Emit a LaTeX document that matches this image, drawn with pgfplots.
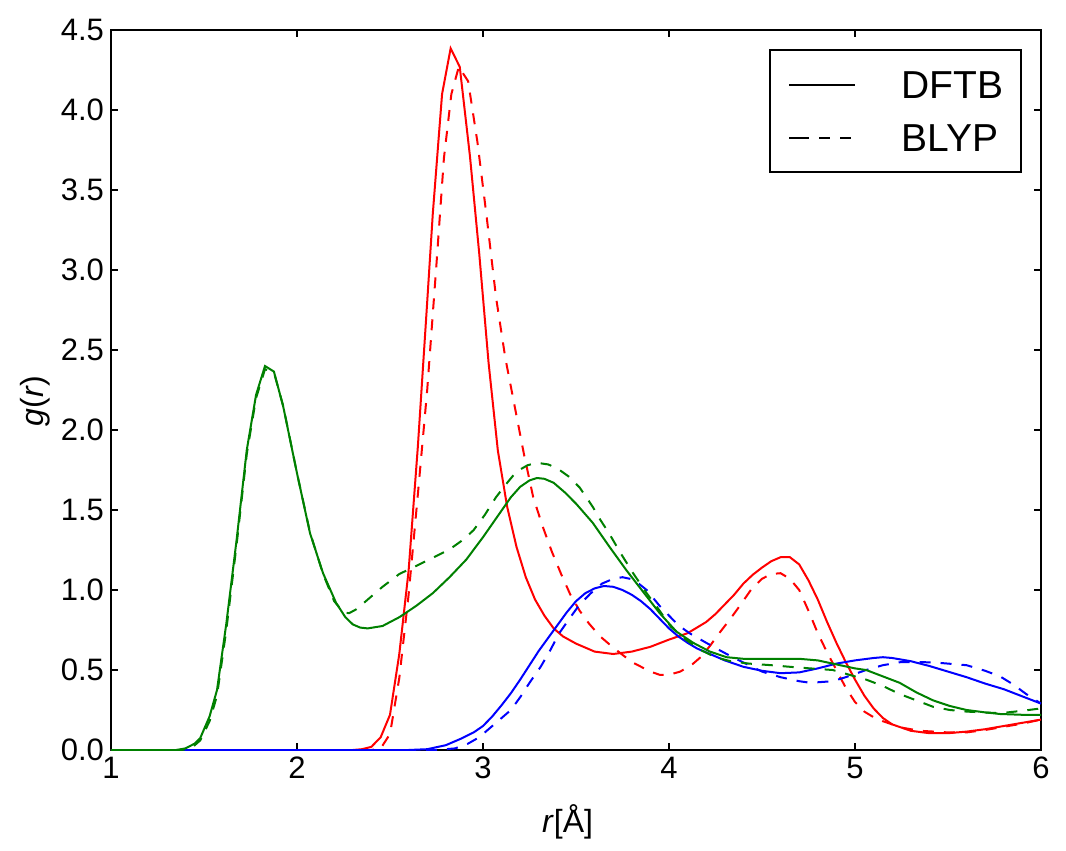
\documentclass[border=0pt]{standalone}
\usepackage{fontspec}
\setmainfont{Liberation Sans}
\usepackage{pgfplots}
\pgfplotsset{compat=1.18}
\usepackage{pgfplotstable}

\definecolor{mplgreen}{rgb}{0,0.5,0}

% Red pair: DFTB and BLYP
\pgfplotstableread{
r g
1.00 0
2.30 0
2.35 0.005
2.40 0.02
2.45 0.08
2.50 0.22
2.55 0.60
2.60 1.12
2.65 1.90
2.70 2.80
2.73 3.35
2.78 4.10
2.826 4.385
2.875 4.27
2.93 3.71
2.98 3.10
3.03 2.42
3.08 1.87
3.13 1.52
3.18 1.27
3.23 1.08
3.28 0.94
3.33 0.84
3.38 0.76
3.43 0.71
3.50 0.665
3.60 0.615
3.70 0.60
3.80 0.615
3.90 0.645
4.00 0.69
4.10 0.73
4.20 0.80
4.25 0.85
4.30 0.91
4.35 0.97
4.40 1.04
4.45 1.095
4.50 1.14
4.55 1.18
4.60 1.205
4.65 1.205
4.70 1.16
4.75 1.06
4.80 0.94
4.85 0.80
4.90 0.67
4.95 0.55
5.00 0.44
5.05 0.34
5.10 0.26
5.15 0.20
5.20 0.16
5.30 0.12
5.40 0.105
5.50 0.105
5.60 0.115
5.70 0.13
5.80 0.15
5.90 0.17
6.00 0.19
}\redDFTB

\pgfplotstableread{
r g
1.00 0
2.40 0
2.45 0.01
2.50 0.10
2.55 0.45
2.60 0.97
2.65 1.60
2.70 2.25
2.75 3.04
2.79 3.70
2.83 4.10
2.87 4.27
2.92 4.18
2.97 3.80
3.02 3.33
3.07 2.83
3.12 2.45
3.17 2.15
3.22 1.85
3.27 1.58
3.32 1.40
3.37 1.24
3.42 1.10
3.47 0.97
3.52 0.87
3.57 0.79
3.63 0.71
3.70 0.64
3.80 0.55
3.90 0.49
3.95 0.47
4.00 0.47
4.06 0.49
4.12 0.53
4.17 0.58
4.22 0.65
4.27 0.73
4.33 0.82
4.38 0.90
4.44 1.00
4.50 1.07
4.55 1.10
4.60 1.105
4.65 1.07
4.70 1.00
4.75 0.87
4.80 0.73
4.85 0.61
4.90 0.50
4.95 0.39
5.00 0.30
5.05 0.24
5.10 0.205
5.15 0.18
5.25 0.14
5.35 0.12
5.50 0.11
5.60 0.11
5.70 0.125
5.80 0.145
5.90 0.165
6.00 0.19
}\redBLYP

% Blue pair
\pgfplotstableread{
r g
1.00 0
2.60 0
2.70 0.005
2.80 0.03
2.88 0.07
2.95 0.11
3.00 0.15
3.05 0.21
3.10 0.28
3.15 0.355
3.20 0.44
3.25 0.53
3.30 0.62
3.35 0.70
3.40 0.78
3.45 0.86
3.50 0.93
3.55 0.98
3.60 1.01
3.65 1.025
3.70 1.02
3.75 1.00
3.80 0.97
3.85 0.93
3.90 0.88
3.95 0.82
4.00 0.76
4.05 0.71
4.10 0.67
4.15 0.635
4.20 0.61
4.30 0.56
4.40 0.52
4.50 0.495
4.60 0.48
4.70 0.485
4.80 0.51
4.90 0.54
5.00 0.56
5.10 0.575
5.15 0.58
5.20 0.575
5.30 0.555
5.40 0.525
5.50 0.49
5.60 0.455
5.70 0.415
5.80 0.38
5.90 0.335
6.00 0.29
}\blueDFTB

\pgfplotstableread{
r g
1.00 0
2.75 0
2.85 0.01
2.92 0.04
2.98 0.08
3.05 0.15
3.10 0.20
3.15 0.25
3.20 0.33
3.25 0.42
3.31 0.52
3.36 0.62
3.41 0.73
3.47 0.83
3.52 0.91
3.58 0.98
3.64 1.04
3.70 1.07
3.75 1.08
3.81 1.065
3.88 1.00
3.95 0.90
4.00 0.84
4.05 0.78
4.11 0.73
4.20 0.67
4.27 0.625
4.35 0.575
4.43 0.53
4.50 0.49
4.60 0.455
4.70 0.43
4.76 0.42
4.88 0.43
4.95 0.455
5.06 0.50
5.15 0.53
5.25 0.55
5.35 0.55
5.45 0.545
5.55 0.535
5.60 0.53
5.70 0.495
5.78 0.46
5.85 0.41
5.92 0.35
6.00 0.29
}\blueBLYP

% Green pair
\pgfplotstableread{
r g
1.00 0
1.35 0
1.40 0.01
1.45 0.04
1.48 0.075
1.53 0.21
1.57 0.375
1.62 0.79
1.675 1.31
1.73 1.875
1.78 2.22
1.828 2.40
1.876 2.365
1.926 2.146
2.00 1.73
2.07 1.355
2.14 1.105
2.21 0.92
2.26 0.83
2.30 0.785
2.34 0.765
2.38 0.76
2.46 0.775
2.55 0.83
2.64 0.90
2.73 0.98
2.82 1.08
2.91 1.19
3.00 1.33
3.09 1.48
3.15 1.58
3.20 1.645
3.25 1.685
3.29 1.70
3.33 1.695
3.38 1.67
3.44 1.61
3.50 1.54
3.59 1.42
3.68 1.27
3.77 1.125
3.86 0.99
3.95 0.855
4.04 0.74
4.13 0.67
4.22 0.615
4.31 0.58
4.40 0.57
4.49 0.57
4.60 0.57
4.70 0.57
4.80 0.56
4.88 0.54
5.00 0.51
5.06 0.50
5.15 0.46
5.24 0.42
5.33 0.36
5.42 0.31
5.51 0.275
5.60 0.25
5.70 0.235
5.78 0.225
5.90 0.22
6.00 0.22
}\greenDFTB

\pgfplotstableread{
r g
1.00 0
1.38 0
1.43 0.01
1.48 0.06
1.53 0.18
1.57 0.34
1.62 0.75
1.675 1.28
1.73 1.85
1.78 2.20
1.828 2.38
1.876 2.36
1.926 2.15
2.00 1.73
2.07 1.36
2.14 1.10
2.20 0.93
2.25 0.86
2.28 0.855
2.32 0.88
2.40 0.96
2.46 1.02
2.55 1.10
2.64 1.15
2.71 1.19
2.78 1.23
2.84 1.27
2.90 1.32
2.95 1.375
3.01 1.47
3.07 1.58
3.13 1.67
3.18 1.74
3.24 1.78
3.29 1.795
3.35 1.785
3.40 1.76
3.46 1.71
3.52 1.64
3.59 1.52
3.63 1.44
3.68 1.35
3.74 1.23
3.81 1.10
3.88 0.98
3.95 0.87
4.01 0.77
4.09 0.69
4.17 0.625
4.25 0.58
4.33 0.555
4.43 0.54
4.55 0.53
4.65 0.52
4.76 0.51
4.88 0.50
4.97 0.47
5.06 0.44
5.15 0.40
5.24 0.35
5.33 0.31
5.42 0.27
5.51 0.25
5.60 0.24
5.69 0.235
5.78 0.23
5.90 0.245
6.00 0.26
}\greenBLYP

\tikzset{
  dftb/.style={line width=1pt, solid},
  blyp/.style={line width=1pt, dash pattern=on 5.5pt off 5pt},
}

\begin{document}
\begin{tikzpicture}
\useasboundingbox (-55.5pt,-50.5pt) rectangle (477.5pt,375pt);
\begin{axis}[
  at={(0,0)}, anchor=south west,
  scale only axis, width=465pt, height=360pt,
  xmin=1, xmax=6, ymin=0, ymax=4.5,
  xtick={1,2,3,4,5,6},
  ytick={0,0.5,1,1.5,2,2.5,3,3.5,4,4.5},
  yticklabel style={/pgf/number format/.cd, fixed, fixed zerofill, precision=1},
  /pgf/number format/assume math mode=true,
  tick label style={font=\fontsize{15.5}{18}\selectfont},
  label style={font=\fontsize{16}{19}\selectfont},
  tick align=inside,
  major tick length=3.5pt,
  tick style={black, line width=0.6pt},
  axis line style={line width=1pt},
  xlabel={\textit{r}[Å]},
  ylabel={\textit{g}(\textit{r})},
  xlabel style={at={(axis description cs:0.491,-0.1)}, anchor=center},
  ylabel style={at={(axis description cs:-0.0817,0.485)}, anchor=center},
  legend style={
    at={(axis description cs:0.9796,0.9736)}, anchor=north east,
    draw=black, line width=1pt,
    inner xsep=9pt, inner ysep=10.25pt,
    font=\fontsize{19.5}{23}\selectfont,
    row sep=12.5pt, column sep=22.5pt,
    nodes={inner sep=0pt, text height=14pt, text depth=0pt},
    cells={anchor=west},
  },
  legend image code/.code={
    \path (0pt,0pt) -- (4.5pt,0pt);
    \draw[#1] (4.5pt,0pt) -- (33pt,0pt);
  },
]
\addplot[red, dftb, forget plot] table[x=r, y=g] {\redDFTB};
\addplot[red, blyp, forget plot] table[x=r, y=g] {\redBLYP};
\addplot[blue, dftb, forget plot] table[x=r, y=g] {\blueDFTB};
\addplot[blue, blyp, forget plot] table[x=r, y=g] {\blueBLYP};
\addplot[mplgreen, dftb, forget plot] table[x=r, y=g] {\greenDFTB};
\addplot[mplgreen, blyp, forget plot] table[x=r, y=g] {\greenBLYP};
\addlegendimage{black, line width=1pt, solid}
\addlegendentry{DFTB}
\addlegendimage{black, line width=1pt, dash pattern=on 5.5pt off 5pt}
\addlegendentry{BLYP}
\end{axis}
\end{tikzpicture}
\end{document}
